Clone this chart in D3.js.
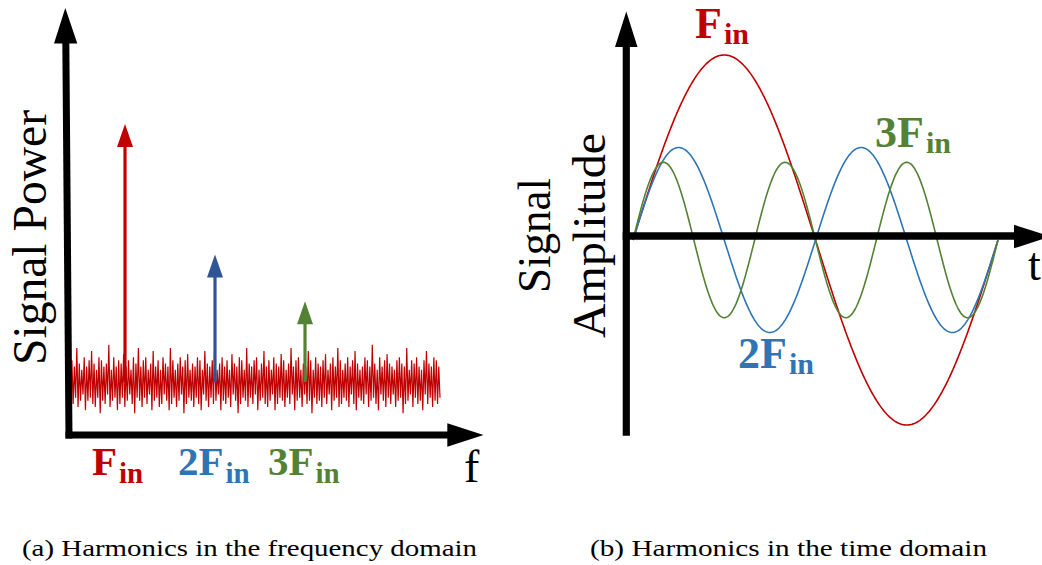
<!DOCTYPE html>
<html>
<head>
<meta charset="utf-8">
<script src="https://cdn.jsdelivr.net/npm/d3@7"></script>
<style>
  html, body { margin: 0; padding: 0; background: #fff; overflow: hidden; }
</style>
</head>
<body>
<svg id="fig" width="1042" height="565"></svg>
<script>
// ---- spectrum: harmonic peaks (frequency in multiples of F_in, power in %) ----
const harmonicPrefix = ["", "2", "3"];
const harmonicOrder  = [1, 2, 3];
const peakPower      = [100, 58, 43];

// noise floor samples (power, %), spread evenly over the band below
const noiseBand = [0.41, 4.5];
const noiseFloor = [
  24,10, 22,12, 28,9, 23,11, 21,13, 25,8, 22,11, 24,12, 27,10, 23,9,
  21,12, 25,7, 24,11, 22,10, 23,13, 29,9, 21,11, 25,12, 22,8, 24,10,
  23,12, 26,9, 22,11, 24,13, 21,10, 25,7, 23,12, 28,11, 22,9, 24,12,
  25,10, 21,13, 23,8, 27,11, 22,12, 24,9, 21,10, 25,13, 23,11, 22,8,
  28,10, 24,12, 21,9, 23,11, 25,13, 22,7, 24,10, 26,12, 21,11, 23,9,
  22,12, 25,10, 24,8, 21,13, 27,11, 23,9, 22,12, 24,10, 29,11, 21,13,
  23,8, 25,11, 22,10, 24,12, 21,9, 26,13, 23,11, 22,7, 25,10, 24,12,
  21,11, 28,9, 23,12, 22,10, 24,13, 25,8, 21,11, 23,12, 27,10, 22,9,
  24,11, 21,13, 25,8, 23,10, 22,12, 26,11, 24,9, 21,12, 23,10, 28,13,
  22,8, 24,11, 25,12, 21,9, 23,13, 22,10, 27,11, 24,7, 21,12, 25,10,
  23,11, 22,9, 24,12, 26,10, 21,13, 23,8, 25,11, 22,12, 28,9, 24,10,
  21,12, 23,11, 25,9, 22,13, 24,10, 27,8, 23,12, 21,11, 22,10, 25,13,
  24,9, 22,11, 29,12, 23,10, 21,8, 25,13, 22,11, 24,9, 26,12, 23,10,
  22,13, 21,9, 24,11, 25,12, 23,7, 22,10, 28,11, 21,13, 24,9, 23,12,
  25,10, 22,11, 21,8, 24,13, 27,10, 23,12, 22,9, 25,11, 24,10, 22,12
];
const noiseLevel = 17;   // where the harmonic arrows rise from

// ---- time domain: relative amplitude of each harmonic over one F_in period ----
const waveAmplitude = [1, 0.5, 0.42];

const captions = [
  "(a) Harmonics in the frequency domain",
  "(b) Harmonics in the time domain"
];

const harmonicColor = ["#C00000", "#2E75B6", "#548235"];
const arrowColor    = ["#C00000", "#2F5597", "#548235"];
const serif = "'Liberation Serif', 'Times New Roman', Tinos, 'DejaVu Serif', serif";

const svg = d3.select("#fig").attr("font-family", serif);

// ================= (a) frequency domain =================
const xF = d3.scaleLinear().domain([0, 3]).range([35, 305]);
const yP = d3.scaleLinear().domain([0, 100]).range([435, 124]);

// noise floor trace
const xNoise = d3.scaleLinear()
  .domain([0, noiseFloor.length - 1])
  .range([xF(noiseBand[0]), xF(noiseBand[1])]);
svg.append("path")
  .datum(noiseFloor)
  .attr("d", d3.line().x((d, i) => xNoise(i)).y(d => yP(d)))
  .attr("fill", "none")
  .attr("stroke", "#C00000")
  .attr("stroke-width", 1.2)
  .attr("stroke-linejoin", "miter");

// harmonic arrows
const headLen = 23, headHalf = 8;
const peaks = svg.append("g").selectAll("g")
  .data(harmonicOrder.map((h, i) => ({ h, p: peakPower[i], c: arrowColor[i] })))
  .join("g");
peaks.append("line")
  .attr("x1", d => xF(d.h)).attr("x2", d => xF(d.h))
  .attr("y1", yP(noiseLevel))
  .attr("y2", d => yP(d.p) + headLen - 1)
  .attr("stroke", d => d.c)
  .attr("stroke-width", 3.2);
peaks.append("path")
  .attr("d", d => {
    const x = xF(d.h), y = yP(d.p);
    return `M${x},${y}L${x + headHalf},${y + headLen}L${x - headHalf},${y + headLen}Z`;
  })
  .attr("fill", d => d.c);

// axes with arrowheads
svg.append("line")
  .attr("x1", 65.8).attr("y1", 40).attr("x2", 69).attr("y2", 438.5)
  .attr("stroke", "#000").attr("stroke-width", 7);
svg.append("path").attr("d", "M65.3,8L77.3,43.5L54,43.5Z").attr("fill", "#000");
svg.append("line")
  .attr("x1", 65.5).attr("y1", 435).attr("x2", 450).attr("y2", 435)
  .attr("stroke", "#000").attr("stroke-width", 7);
svg.append("path").attr("d", "M483.5,435L447.3,423.3L447.3,446.7Z").attr("fill", "#000");

// harmonic labels under the frequency axis
const harmLabelX = [92, 178, 268];
harmonicOrder.forEach((h, i) => {
  const t = svg.append("text")
    .attr("x", harmLabelX[i]).attr("y", 475)
    .attr("fill", harmonicColor[i])
    .attr("font-weight", "bold")
    .attr("font-size", 41);
  t.append("tspan").text(harmonicPrefix[i] + "F");
  t.append("tspan").attr("dx", 2).attr("dy", 8).attr("font-size", 29).text("in");
});

svg.append("text")
  .attr("x", 464).attr("y", 482)
  .attr("font-size", 46)
  .text("f");

svg.append("text")
  .attr("transform", "translate(46,237.5) rotate(-90)")
  .attr("text-anchor", "middle")
  .attr("font-size", 48)
  .attr("textLength", 255)
  .attr("lengthAdjust", "spacingAndGlyphs")
  .text("Signal Power");

// ================= (b) time domain =================
const xT = d3.scaleLinear().domain([0, 1]).range([633, 998]);
const yA = d3.scaleLinear().domain([-1, 1]).range([425, 55]);
const tSamples = d3.range(0, 1.0001, 0.0025);

harmonicOrder.forEach((h, i) => {
  svg.append("path")
    .datum(tSamples)
    .attr("d", d3.line()
      .x(t => xT(t))
      .y(t => yA(waveAmplitude[i] * Math.sin(2 * Math.PI * h * t))))
    .attr("fill", "none")
    .attr("stroke", harmonicColor[i])
    .attr("stroke-width", 1.6);
});

svg.append("line")
  .attr("x1", 626.3).attr("y1", 45).attr("x2", 626.3).attr("y2", 435.7)
  .attr("stroke", "#000").attr("stroke-width", 7.2);
svg.append("path").attr("d", "M626.3,11.5L637.5,47L615,47Z").attr("fill", "#000");
svg.append("line")
  .attr("x1", 622.7).attr("y1", 236).attr("x2", 1016).attr("y2", 236)
  .attr("stroke", "#000").attr("stroke-width", 7.5);
svg.append("path").attr("d", "M1051,236.5L1014,224.8L1014,248.3Z").attr("fill", "#000");

// wave labels
const waveLabelPos = [[695, 38], [738, 368], [875, 147]];
harmonicOrder.forEach((h, i) => {
  const t = svg.append("text")
    .attr("x", waveLabelPos[i][0]).attr("y", waveLabelPos[i][1])
    .attr("fill", harmonicColor[i])
    .attr("font-weight", "bold")
    .attr("font-size", 44);
  t.append("tspan").text(harmonicPrefix[i] + "F");
  t.append("tspan").attr("dx", 2).attr("dy", 6).attr("font-size", 30).text("in");
});

svg.append("text")
  .attr("x", 1028).attr("y", 280)
  .attr("font-size", 46)
  .text("t");

svg.append("text")
  .attr("transform", "translate(550,235.5) rotate(-90)")
  .attr("text-anchor", "middle")
  .attr("font-size", 46)
  .attr("textLength", 115)
  .attr("lengthAdjust", "spacingAndGlyphs")
  .text("Signal");
svg.append("text")
  .attr("transform", "translate(605,235.5) rotate(-90)")
  .attr("text-anchor", "middle")
  .attr("font-size", 46)
  .attr("textLength", 205)
  .attr("lengthAdjust", "spacingAndGlyphs")
  .text("Amplitude");

// ================= captions =================
const capPos = [[22, 455], [590, 397]];
captions.forEach((c, i) => {
  svg.append("text")
    .attr("x", capPos[i][0]).attr("y", 556)
    .attr("font-size", 24)
    .attr("textLength", capPos[i][1])
    .attr("lengthAdjust", "spacingAndGlyphs")
    .text(c);
});
</script>
</body>
</html>
